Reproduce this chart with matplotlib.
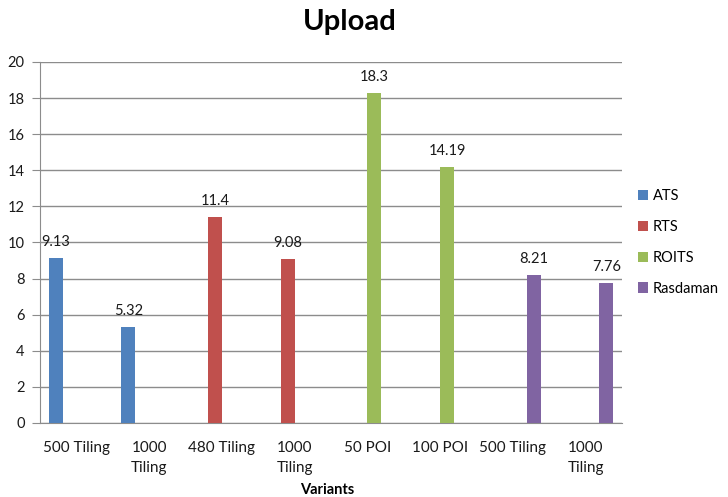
import matplotlib.pyplot as plt
import numpy as np

plt.rcParams['font.family'] = ['Lato', 'DejaVu Sans']

# === Upload times per variant ===
categories = ['500 Tiling', '1000\nTiling', '480 Tiling', '1000\nTiling',
              '50 POI', '100 POI', '500 Tiling', '1000\nTiling']
series = ['ATS', 'RTS', 'ROITS', 'Rasdaman']
colors = ['#4F81BD', '#C0504D', '#9BBB59', '#8064A2']
# each series fills only its own two categories
ats = [9.13, 5.32, 0, 0, 0, 0, 0, 0]
rts = [0, 0, 11.4, 9.08, 0, 0, 0, 0]
roits = [0, 0, 0, 0, 18.3, 14.19, 0, 0]
rasdaman = [0, 0, 0, 0, 0, 0, 8.21, 7.76]
yticks = np.arange(0, 21, 2)

fig = plt.figure(figsize=(7.28, 4.97), dpi=100)
ax = fig.add_axes([0.0549, 0.1489, 0.7995, 0.7264])

x = np.arange(len(categories))
width = 0.19
grid_col = '#8C8C8C'

for k, (name, vals, col) in enumerate(zip(series, [ats, rts, roits, rasdaman], colors)):
    pos = x + (k - 1.5) * width
    ax.bar(pos, vals, width=width, color=col, label=name, zorder=3)
    for p, v in zip(pos, vals):
        if v > 0:
            ax.text(p, v + 0.5, f'{v:g}', ha='center', va='bottom',
                    fontsize=10.5, color='#1a1a1a')

ax.set_xlim(-0.5, len(categories) - 0.5)
ax.set_ylim(0, 20)
ax.set_yticks(yticks)
ax.set_xticks(x)
ax.set_xticklabels(categories, fontsize=11, color='#1a1a1a', linespacing=1.5,
                   multialignment='center')
ax.tick_params(axis='x', length=0, pad=13)
ax.tick_params(axis='y', length=6, color=grid_col, labelsize=10.5,
               labelcolor='#1a1a1a', pad=5)

ax.grid(axis='y', color=grid_col, linewidth=1, zorder=0)
for side in ['top', 'right']:
    ax.spines[side].set_visible(False)
ax.spines['left'].set_color(grid_col)
ax.spines['bottom'].set_color(grid_col)

fig.text(0.481, 0.955, 'Upload', ha='center', va='center',
         fontsize=21, fontweight='bold')
fig.text(0.449, 0.0, 'Variants', ha='center', va='bottom',
         fontsize=10.5, fontweight='bold')

ax.legend(loc='center left', bbox_to_anchor=(1.005, 0.5), frameon=False,
          fontsize=10.5, handlelength=0.7, handleheight=0.7, handletextpad=0.3,
          labelspacing=1.15)

fig.savefig('out.png', dpi=100)
